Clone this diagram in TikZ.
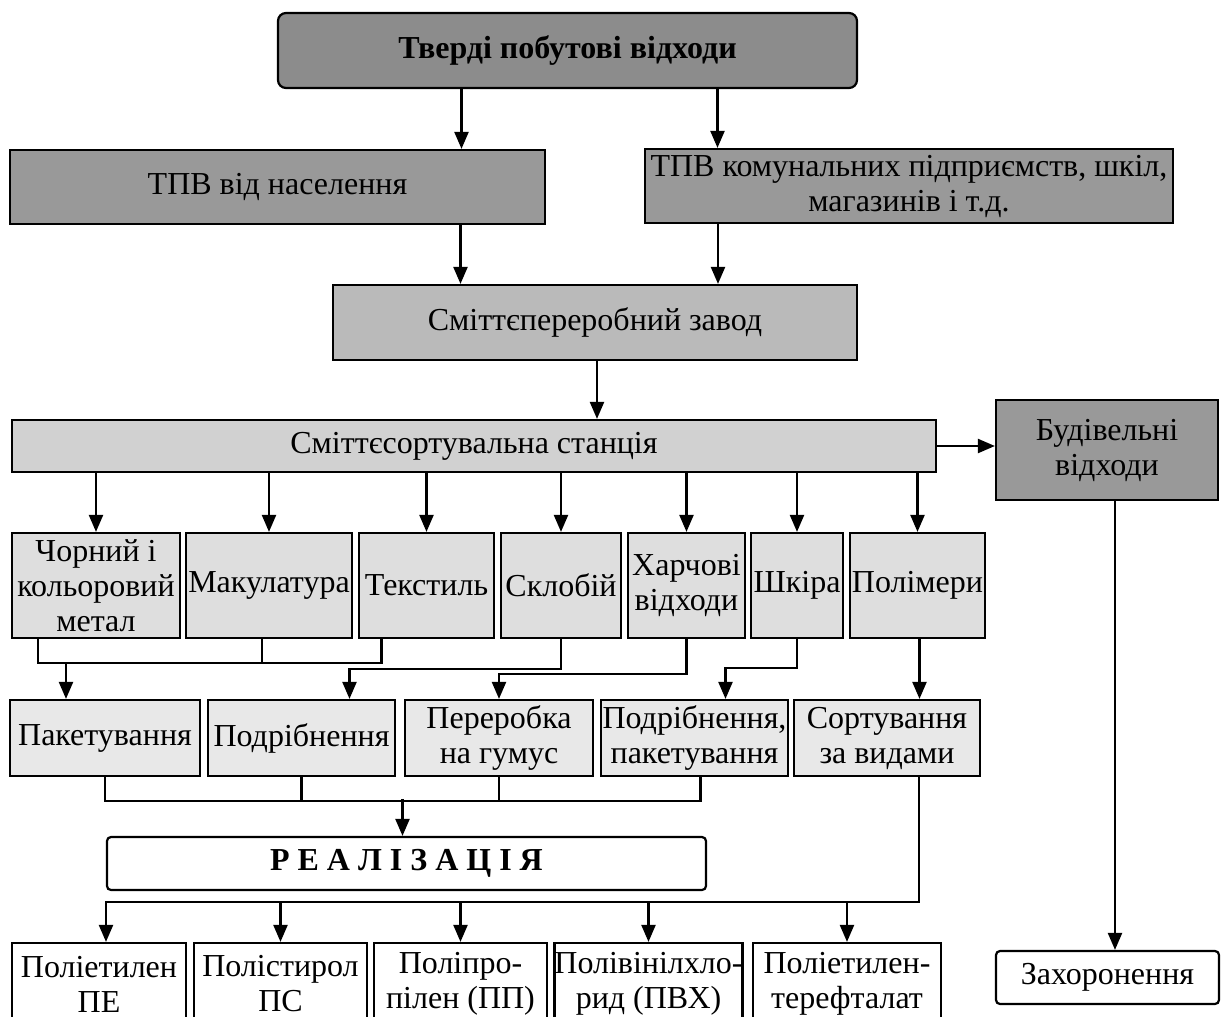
\documentclass[tikz,border=0pt]{standalone}
\usepackage{fontspec}
\setmainfont{Liberation Serif}
\usepackage{xcolor}
\usepackage{tikz}
\usetikzlibrary{calc, arrows.meta, positioning}
\definecolor{graytop}{gray}{0.55}
\definecolor{grayrow}{gray}{0.60}
\definecolor{grayplant}{gray}{0.73}
\definecolor{graystation}{gray}{0.82}
\definecolor{graysort}{gray}{0.87}
\definecolor{grayproc}{gray}{0.91}
\tikzset{
    boxnode/.style = {draw, rectangle, inner sep=0em, node distance=0em, line width=2.2pt,
      font=\fontsize{32}{35}\selectfont},
    roundnode/.style = {boxnode, rounded corners=0.8em},
    sortnode/.style = {boxnode, fill=graysort, minimum height=105pt},
    procnode/.style = {boxnode, fill=grayproc, minimum height=76pt},
    endnode/.style = {boxnode, fill=white, minimum height=82pt},
    connect/.style = {black, line width=2.2pt, -{Triangle[length=17pt, width=14pt]}},
    link/.style = {black, line width=2.2pt},
    every text node part/.style={align=center}
}

\begin{document}
\begin{tikzpicture}
    \useasboundingbox (-567.5pt,50.5pt) rectangle (658.5pt,-966.5pt);
    \clip (-567.5pt,50.5pt) rectangle (658.5pt,-966.5pt);

    \node [roundnode, name=Tverdi, fill=graytop, minimum width=579pt, minimum height=75pt,
      font=\fontsize{32}{35}\selectfont\bfseries] {Тверді побутові відходи};
    \node [boxnode, name=Naselennia, fill=grayrow, below of=Tverdi, xshift=-290pt, yshift=-136.5pt,
      minimum width=535pt, minimum height=74pt] {ТПВ від населення};
    \node [boxnode, name=Komunal, fill=grayrow, below of=Tverdi, xshift=341.5pt, yshift=-135.5pt,
      minimum width=528pt, minimum height=74pt] {ТПВ комунальних підприємств, шкіл,\\ магазинів і т.д.};
    \node [boxnode, name=Zavod, fill=grayplant, below of=Tverdi, xshift=27.5pt, yshift=-272pt,
      minimum width=524pt, minimum height=75pt] {Сміттєпереробний завод};
    \node [boxnode, name=Stantsiia, fill=graystation, below of=Zavod, xshift=-121pt, yshift=-123.5pt,
      minimum width=924pt, minimum height=52pt] {Сміттєсортувальна станція};
    \node [boxnode, name=Budivelni, fill=grayrow, below of=Stantsiia, xshift=633pt, yshift=-4pt,
      minimum width=222pt, minimum height=100pt] {Будівельні\\ відходи};

    % фракції після сортування
    \node [sortnode, name=Chornyi, below of=Stantsiia, xshift=-378pt, yshift=-139.5pt, minimum width=168pt]
      {Чорний і\\ кольоровий\\ метал};
    \node [sortnode, name=Makulatura, below of=Stantsiia, xshift=-205pt, yshift=-139.5pt, minimum width=166pt]
      {Макулатура};
    \node [sortnode, name=Tekstyl, below of=Stantsiia, xshift=-47.5pt, yshift=-139.5pt, minimum width=135pt]
      {Текстиль};
    \node [sortnode, name=Sklobii, below of=Stantsiia, xshift=87pt, yshift=-139.5pt, minimum width=120pt]
      {Склобій};
    \node [sortnode, name=Kharchovi, below of=Stantsiia, xshift=212.5pt, yshift=-139.5pt, minimum width=117pt]
      {Харчові\\ відходи};
    \node [sortnode, name=Shkira, below of=Stantsiia, xshift=323pt, yshift=-139.5pt, minimum width=92pt]
      {Шкіра};
    \node [sortnode, name=Polimery, below of=Stantsiia, xshift=443.5pt, yshift=-139.5pt, minimum width=135pt]
      {Полімери};

    % обробка
    \node [procnode, name=Paketuvannia, below of=Stantsiia, xshift=-369pt, yshift=-292pt, minimum width=190pt]
      {Пакетування};
    \node [procnode, name=Podribnennia, below of=Stantsiia, xshift=-172.5pt, yshift=-292pt, minimum width=187pt]
      {Подрібнення};
    \node [procnode, name=Pererobka, below of=Stantsiia, xshift=25pt, yshift=-292pt, minimum width=188pt]
      {Переробка\\ на гумус};
    \node [procnode, name=PodribPaket, below of=Stantsiia, xshift=220.5pt, yshift=-292pt, minimum width=187pt]
      {Подрібнення,\\ пакетування};
    \node [procnode, name=Sortuvannia, below of=Stantsiia, xshift=413pt, yshift=-292pt, minimum width=186pt]
      {Сортування\\ за видами};

    \node [roundnode, name=Realizatsiia, fill=white, rounded corners=0.4em, below of=Stantsiia, xshift=-67.5pt,
      yshift=-417.5pt, minimum width=599pt, minimum height=53pt,
      font=\fontsize{32}{35}\selectfont\bfseries] {Р Е А Л І З А Ц І Я};

    % види полімерів
    \node [endnode, name=PE, below of=Realizatsiia, xshift=-307.5pt, yshift=-120.5pt, minimum width=174pt]
      {Поліетилен\\ ПЕ};
    \node [endnode, name=PS, below of=Realizatsiia, xshift=-126pt, yshift=-120.5pt, minimum width=173pt]
      {Полістирол\\ ПС};
    \node [endnode, name=PP, below of=Realizatsiia, xshift=54pt, yshift=-120.5pt, minimum width=173pt]
      {Поліпро-\\ пілен (ПП)};
    \node [endnode, name=PVKh, below of=Realizatsiia, xshift=242pt, yshift=-120.5pt, minimum width=187pt]
      {Полівінілхло-\\ рид (ПВХ)};
    \node [endnode, name=PET, below of=Realizatsiia, xshift=440.5pt, yshift=-120.5pt, minimum width=188pt]
      {Поліетилен-\\ терефталат};

    \node [roundnode, name=Zakhoronennia, fill=white, rounded corners=0.4em, below of=Budivelni, xshift=0.5pt,
      yshift=-527.5pt, minimum width=223pt, minimum height=53pt] {Захоронення};

    % стрілки
    \draw[connect] ([xshift=-106pt]Tverdi.south) -- ([xshift=-106pt]Tverdi.south |- Naselennia.north);
    \draw[connect] ([xshift=150pt]Tverdi.south) -- ([xshift=150pt]Tverdi.south |- Komunal.north);
    \draw[connect] ([xshift=183pt]Naselennia.south) -- ([xshift=183pt]Naselennia.south |- Zavod.north);
    \draw[connect] ([xshift=-191pt]Komunal.south) -- ([xshift=-191pt]Komunal.south |- Zavod.north);
    \draw[connect] ([xshift=2pt]Zavod.south) -- ([xshift=2pt]Zavod.south |- Stantsiia.north);
    \draw[connect] (Stantsiia.east) -- (Stantsiia.east -| Budivelni.west);
    \foreach \n in {Chornyi, Makulatura, Tekstyl, Sklobii, Kharchovi, Shkira, Polimery}
      \draw[connect] (\n.north |- Stantsiia.south) -- (\n.north);

    \draw[link] ([xshift=-58pt]Chornyi.south) -- ++(0,-24pt) -| ([xshift=-45pt]Tekstyl.south);
    \draw[link] ([xshift=-7pt]Makulatura.south) -- ++(0,-24pt);
    \draw[connect] ([xshift=-30pt, yshift=-24pt]Chornyi.south) -- ([xshift=-39pt]Paketuvannia.north);
    \draw[connect] (Sklobii.south) -- ++(0,-30pt) -| ([xshift=48pt]Podribnennia.north);
    \draw[connect] (Kharchovi.south) -- ++(0,-35pt) -| (Pererobka.north);
    \draw[connect] (Shkira.south) -- ++(0,-29pt) -| ([xshift=31pt]PodribPaket.north);
    \draw[connect] ([xshift=2pt]Polimery.south) -- ([xshift=2pt]Polimery.south |- Sortuvannia.north);

    \draw[link] (Paketuvannia.south) -- ++(0,-24pt) -| ([xshift=6pt]PodribPaket.south);
    \draw[link] (Podribnennia.south) -- ++(0,-24pt);
    \draw[link] (Pererobka.south) -- ++(0,-24pt);
    \draw[connect] ([xshift=-4pt, yshift=37pt]Realizatsiia.north) -- ([xshift=-4pt]Realizatsiia.north);

    \draw[connect] ([xshift=32pt]Sortuvannia.south) |- ([xshift=7pt, yshift=40pt]PE.north) -- ([xshift=7pt]PE.north);
    \foreach \n in {PS, PP, PVKh, PET}
      \draw[connect] ([yshift=40pt]\n.north) -- (\n.north);
    \draw[connect] ([xshift=8pt]Budivelni.south) -- ([xshift=8pt]Budivelni.south |- Zakhoronennia.north);
\end{tikzpicture}
\end{document}
